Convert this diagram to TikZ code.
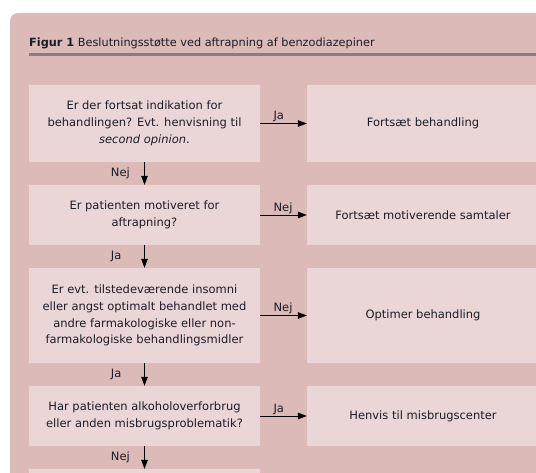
\documentclass[tikz,border=0pt]{standalone}
\usepackage{fontspec}
\setmainfont{DejaVu Sans}
\usetikzlibrary{arrows.meta}
\definecolor{panel}{RGB}{220,186,184}
\definecolor{boxfill}{RGB}{234,214,214}
\definecolor{ink}{RGB}{28,28,40}
\definecolor{rulegray}{RGB}{128,128,128}
\tikzstyle{question}=[fill=boxfill, text=ink, align=center, inner sep=0pt,
minimum width=231pt, font=\fontsize{11.5}{16.8}\selectfont]
\tikzstyle{action}=[fill=boxfill, text=ink, align=center, inner sep=0pt,
minimum width=232pt, font=\fontsize{11.5}{16.8}\selectfont]
\tikzstyle{answer}=[text=ink, inner sep=1pt, font=\fontsize{11.5}{13}\selectfont]
\tikzstyle{flow}=[-{Triangle[length=9pt,width=6.5pt]}, line width=0.8pt]

\begin{document}
\begin{tikzpicture}[x=1pt, y=-1pt]
  \useasboundingbox (0,0) rectangle (536,473);
  \clip (0,0) rectangle (536,473);

  % Panel
  \fill[white] (0,0) rectangle (536,473);
  \fill[panel, rounded corners=8pt] (10,13) rectangle (620,560);

  % Title
  \node (title) at (29,43) [anchor=west, inner sep=0pt, text=ink,
    font=\fontsize{11.3}{13}\selectfont]
    {\textbf{Figur 1} Beslutningsstøtte ved aftrapning af benzodiazepiner};
  \coordinate (r1) at (29,54.5);
  \coordinate (r2) at (560,54.5);
  \draw[rulegray, line width=2.4pt] (r1) -- (r2);

  % Questions
  \node (q1) at (144.5,123.5) [question, minimum height=77pt]
    {Er der fortsat indikation for\\behandlingen? Evt. henvisning til\\\textit{second opinion}.};
  \node (q2) at (144.5,215) [question, minimum height=60pt]
    {Er patienten motiveret for\\aftrapning?};
  \node (q3) at (144.5,315.5) [question, minimum height=95pt]
    {Er evt. tilstedeværende insomni\\eller angst optimalt behandlet med\\andre farmakologiske eller non-\\farmakologiske behandlingsmidler};
  \node (q4) at (144.5,416) [question, minimum height=60pt]
    {Har patienten alkoholoverforbrug\\eller anden misbrugsproblematik?};
  \node (q5) at (144.5,510) [question, minimum height=82pt] {};

  % Actions
  \node (a1) at (423,123.5) [action, minimum height=77pt] {Fortsæt behandling};
  \node (a2) at (423,215) [action, minimum height=60pt] {Fortsæt motiverende samtaler};
  \node (a3) at (423,315.5) [action, minimum height=95pt] {Optimer behandling};
  \node (a4) at (423,416) [action, minimum height=60pt] {Henvis til misbrugscenter};

  % Horizontal arrows
  \draw[flow] (q1.east) -- node[answer, pos=0, anchor=south west, xshift=12pt] {Ja} (a1.west);
  \draw[flow] (q2.east) -- node[answer, pos=0, anchor=south west, xshift=12pt] {Nej} (a2.west);
  \draw[flow] (q3.east) -- node[answer, pos=0, anchor=south west, xshift=12pt] {Nej} (a3.west);
  \draw[flow] (q4.east) -- node[answer, pos=0, anchor=south west, xshift=12pt] {Ja} (a4.west);

  % Vertical arrows
  \draw[flow] (q1.south) -- node[answer, anchor=west, xshift=-35pt] {Nej} (q2.north);
  \draw[flow] (q2.south) -- node[answer, anchor=west, xshift=-35pt] {Ja} (q3.north);
  \draw[flow] (q3.south) -- node[answer, anchor=west, xshift=-35pt] {Ja} (q4.north);
  \draw[flow] (q4.south) -- node[answer, anchor=west, xshift=-35pt] {Nej} (q5.north);
\end{tikzpicture}
\end{document}
